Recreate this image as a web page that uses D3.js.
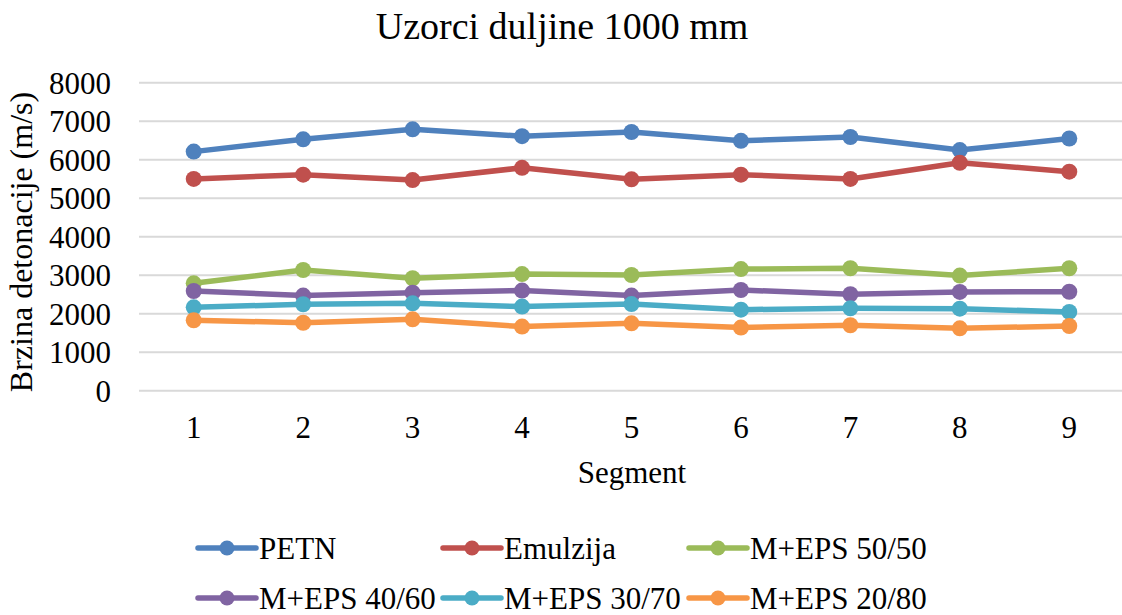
<!DOCTYPE html>
<html>
<head>
<meta charset="utf-8">
<script src="https://cdn.jsdelivr.net/npm/d3@7/dist/d3.min.js"></script>
<style>
  html, body { margin: 0; padding: 0; background: #fff; }
  svg text { font-family: "Liberation Serif", "Times New Roman", serif !important; fill: #000; }
</style>
</head>
<body>
<svg id="chart" width="1122" height="615"></svg>
<script>
const segments = ["1","2","3","4","5","6","7","8","9"];
const yTicks = [0,1000,2000,3000,4000,5000,6000,7000,8000];
const seriesNames = ["PETN","Emulzija","M+EPS 50/50","M+EPS 40/60","M+EPS 30/70","M+EPS 20/80"];
const seriesColors = ["#4F81BD","#C0504D","#9BBB59","#8064A2","#4BACC6","#F79646"];
const petn      = [6210,6530,6790,6610,6720,6490,6590,6250,6550];
const emulzija  = [5500,5610,5470,5790,5490,5610,5500,5920,5690];
const eps5050   = [2790,3135,2920,3030,3005,3160,3180,2990,3180];
const eps4060   = [2590,2470,2545,2600,2470,2615,2505,2565,2570];
const eps3070   = [2165,2245,2270,2185,2250,2105,2140,2130,2045];
const eps2080   = [1830,1765,1855,1665,1750,1640,1700,1620,1680];
const seriesValues = [petn, emulzija, eps5050, eps4060, eps3070, eps2080];

const svg = d3.select("#chart");
const plot = {left: 139, right: 1124, top: 82.7, bottom: 390.7};

const x = d3.scaleBand().domain(segments).range([plot.left, plot.right]);
const y = d3.scaleLinear().domain([0, 8000]).range([plot.bottom, plot.top]);

// Title
svg.append("text").attr("x", 562).attr("y", 39).attr("text-anchor", "middle")
  .style("font-size", "38px").text("Uzorci duljine 1000 mm");

// Gridlines
svg.append("g").selectAll("line").data(yTicks).join("line")
  .attr("x1", plot.left).attr("x2", plot.right)
  .attr("y1", d => y(d)).attr("y2", d => y(d))
  .attr("stroke", "#D9D9D9").attr("stroke-width", 2);

// Y axis labels
const yAxis = d3.axisLeft(y).tickValues(yTicks).tickSize(0).tickPadding(0).tickFormat(d3.format("d"));
const gy = svg.append("g").attr("transform", `translate(111,0)`).call(yAxis);
gy.select(".domain").remove();
gy.selectAll("text").style("font-size", "31px").attr("dy", "0.34em");

// X axis labels
const xAxis = d3.axisBottom(x).tickSize(0).tickPadding(0);
const gx = svg.append("g").attr("transform", `translate(0,${plot.bottom + 25})`).call(xAxis);
gx.select(".domain").remove();
gx.selectAll("text").style("font-size", "31px").attr("dy", "0.71em");

// Axis titles
svg.append("text").attr("x", 632).attr("y", 483).attr("text-anchor", "middle")
  .style("font-size", "31px").text("Segment");
svg.append("text").attr("transform", `translate(32,242) rotate(-90)`).attr("text-anchor", "middle")
  .style("font-size", "32px").text("Brzina detonacije (m/s)");

// Lines
const line = d3.line().x((d, i) => x(segments[i]) + x.bandwidth() / 2).y(d => y(d));
seriesValues.forEach((vals, si) => {
  const g = svg.append("g");
  g.append("path").datum(vals).attr("d", line).attr("fill", "none")
    .attr("stroke", seriesColors[si]).attr("stroke-width", 5.5).attr("stroke-linejoin", "round");
  g.selectAll("circle").data(vals).join("circle")
    .attr("cx", (d, i) => x(segments[i]) + x.bandwidth() / 2)
    .attr("cy", d => y(d)).attr("r", 8).attr("fill", seriesColors[si]);
});

// Legend
const legendX = [198, 443, 689];
const legendY = [548, 598];
seriesNames.forEach((name, i) => {
  const lx = legendX[i % 3], ly = legendY[Math.floor(i / 3)];
  const g = svg.append("g");
  g.append("line").attr("x1", lx).attr("x2", lx + 58).attr("y1", ly).attr("y2", ly)
    .attr("stroke", seriesColors[i]).attr("stroke-width", 5.5).attr("stroke-linecap", "round");
  g.append("circle").attr("cx", lx + 29).attr("cy", ly).attr("r", 7.5).attr("fill", seriesColors[i]);
  g.append("text").attr("x", lx + 61).attr("y", ly + 11).style("font-size", "31px").text(name);
});
</script>
</body>
</html>
